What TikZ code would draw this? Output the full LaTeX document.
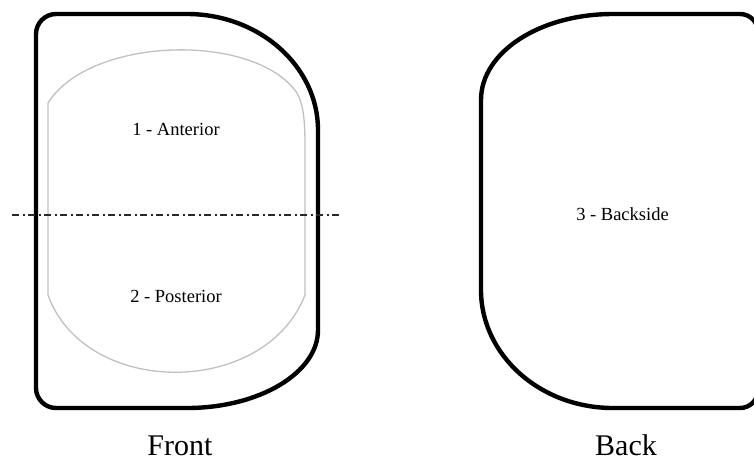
\documentclass[tikz,border=0pt]{standalone}
\usepackage{fontspec}
\setmainfont{Liberation Serif}
\begin{document}
\begin{tikzpicture}[x=1pt,y=-1pt,
  outline/.style={line width=4.4pt,black,line join=round},
  inner/.style={line width=1.3pt,color={rgb,255:red,192;green,192;blue,192}},
  axisline/.style={line width=1.4pt,color={rgb,255:red,40;green,40;blue,40},dash pattern=on 7pt off 3.5pt on 2pt off 3.5pt},
  lbl/.style={inner sep=0pt,anchor=base,font=\fontsize{18.5}{22}\selectfont},
  captionlbl/.style={inner sep=0pt,anchor=base,font=\fontsize{30}{36}\selectfont}]
\useasboundingbox (0,0) rectangle (754,461);
% Front outline
\draw[outline] (56,14) -- (187,14) .. controls (259,14) and (318,66) .. (318,130)
  -- (318,330) .. controls (318,373) and (259,408) .. (187,408)
  -- (56,408) .. controls (45,408) and (36,399) .. (36,388)
  -- (36,34) .. controls (36,23) and (45,14) .. (56,14) -- cycle;
% Inner region
\draw[inner] (48,103) .. controls (90,36) and (255,32) .. (297,93)
  .. controls (304,105) and (305,125) .. (305,145)
  -- (305,295) .. controls (265,398) and (85,398) .. (48,295) -- cycle;
% Axis
\coordinate (axL) at (12,215);
\coordinate (axR) at (341,215);
\draw[axisline] (axL) -- (axR);
% Back outline
\draw[outline] (613,14) -- (740,14) .. controls (750,14) and (758,22) .. (758,32)
  -- (758,390) .. controls (758,400) and (750,408) .. (740,408)
  -- (613,408) .. controls (540,408) and (481,355) .. (481,290)
  -- (481,100) .. controls (481,52) and (540,14) .. (613,14) -- cycle;
% Labels
\node[lbl] (ant) at (176,135) {1 - Anterior};
\node[lbl] (post) at (176,302) {2 - Posterior};
\node[lbl] (back) at (622.5,220) {3 - Backside};
\node[captionlbl] (front) at (180,455) {Front};
\node[captionlbl] (backcap) at (626,455) {Back};
\end{tikzpicture}
\end{document}
